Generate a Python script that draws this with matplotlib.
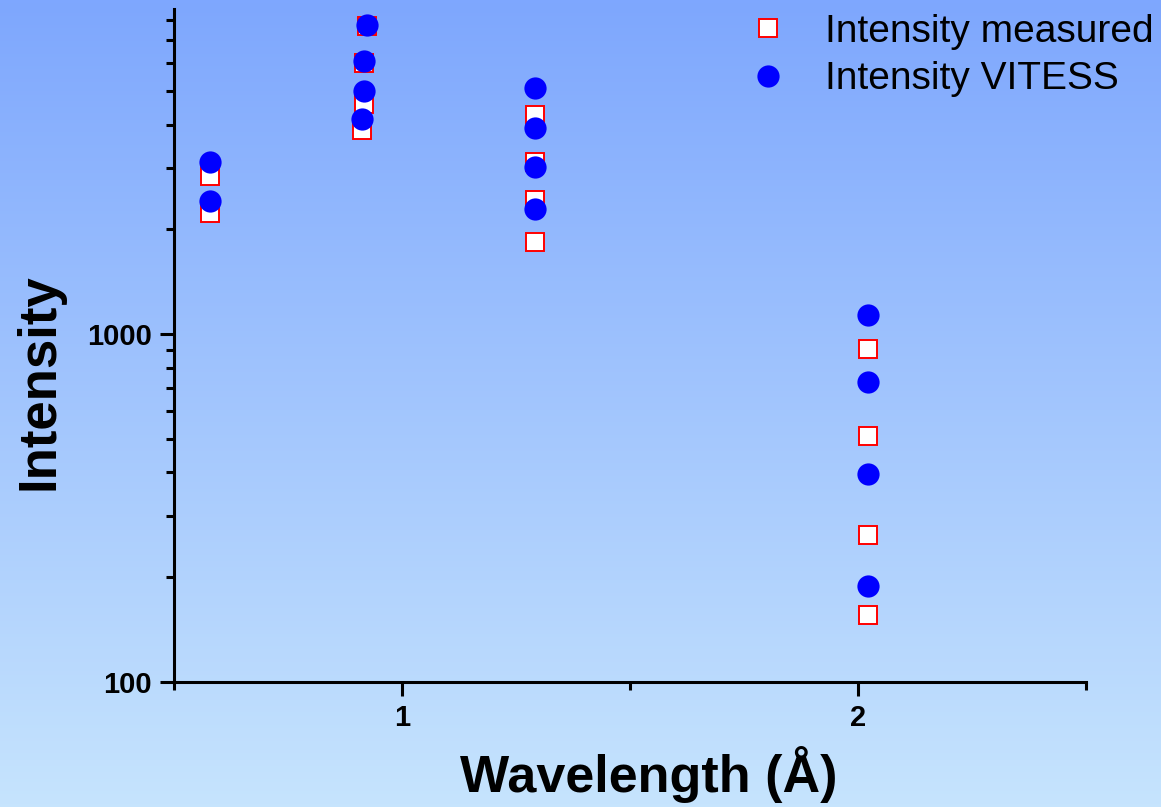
import numpy as np
import matplotlib
matplotlib.use("Agg")
import matplotlib.pyplot as plt
from matplotlib.ticker import FixedLocator, NullFormatter, LogLocator

plt.rcParams['font.family'] = ['Liberation Sans', 'DejaVu Sans']

# wavelength (Angstrom) and intensity, measured vs. VITESS simulation
wl_measured = [0.58, 0.58,
               0.923, 0.917, 0.917, 0.912,
               1.292, 1.292, 1.292, 1.292,
               2.022, 2.022, 2.022, 2.022]
int_measured = [2845, 2227,
                7674, 6010, 4580, 3856,
                4258, 3120, 2427, 1838,
                905, 509, 264, 156]

wl_vitess = [0.58, 0.58,
             0.923, 0.917, 0.917, 0.912,
             1.292, 1.292, 1.292, 1.292,
             2.022, 2.022, 2.022, 2.022]
int_vitess = [3120, 2411,
              7727, 6086, 4990, 4148,
              5091, 3908, 3019, 2286,
              1134, 728, 396, 189]

W, H = 1161, 807
fig = plt.figure(figsize=(W / 100, H / 100), dpi=100)

# vertical background gradient
bg = fig.add_axes([0, 0, 1, 1], zorder=-10)
top = np.array([126, 167, 254]) / 255.0
bottom = np.array([198, 228, 253]) / 255.0
t = np.linspace(0, 1, 256)[:, None]
grad = top[None, :] * (1 - t) + bottom[None, :] * t
bg.imshow(grad[:, None, :], aspect='auto', extent=[0, 1, 0, 1], origin='upper')
bg.set_axis_off()

ax = fig.add_axes([174 / W, 125 / H, (1086 - 174) / W, (682 - 9) / H])
ax.patch.set_alpha(0)

ax.plot(wl_measured, int_measured, ls='none', marker='s', ms=13.5,
        mfc='white', mec='red', mew=1.4, label='Intensity measured', zorder=3)
ax.plot(wl_vitess, int_vitess, ls='none', marker='o', ms=16,
        mfc='blue', mec='blue', mew=0, label='Intensity VITESS', zorder=4)

ax.set_yscale('log')
ax.set_xlim(0.5, 2.5)
ax.set_ylim(100, 8590)

ax.xaxis.set_major_locator(FixedLocator([1, 2]))
ax.xaxis.set_minor_locator(FixedLocator([0.5, 1.5, 2.5]))
ax.set_xticklabels(['1', '2'])
ax.yaxis.set_major_locator(FixedLocator([100, 1000]))
ax.yaxis.set_minor_locator(LogLocator(base=10, subs=np.arange(2, 10)))
ax.yaxis.set_minor_formatter(NullFormatter())
ax.set_yticklabels(['100', '1000'])

for s in ['top', 'right']:
    ax.spines[s].set_visible(False)
for s in ['left', 'bottom']:
    ax.spines[s].set_linewidth(2.2)

ax.tick_params(which='major', length=10, width=2.2, direction='out',
               labelsize=21, pad=6)
ax.tick_params(which='minor', length=5.5, width=2.2, direction='out')
for lbl in ax.get_xticklabels() + ax.get_yticklabels():
    lbl.set_fontweight('bold')

ax.set_xlabel('Wavelength (Å)', fontsize=37.5, fontweight='bold', va='center')
ax.xaxis.set_label_coords(0.521, -0.138)
ax.set_ylabel('Intensity', fontsize=38, fontweight='bold', va='center')
ax.yaxis.set_label_coords(-0.147, 0.4465)

ax.legend(loc='upper right', bbox_to_anchor=(1.0017, 0.995),
          bbox_transform=fig.transFigure, frameon=False, fontsize=28,
          handletextpad=0.45, labelspacing=0.3, borderaxespad=0.0,
          borderpad=0.25)

fig.savefig('out.png', dpi=100)
